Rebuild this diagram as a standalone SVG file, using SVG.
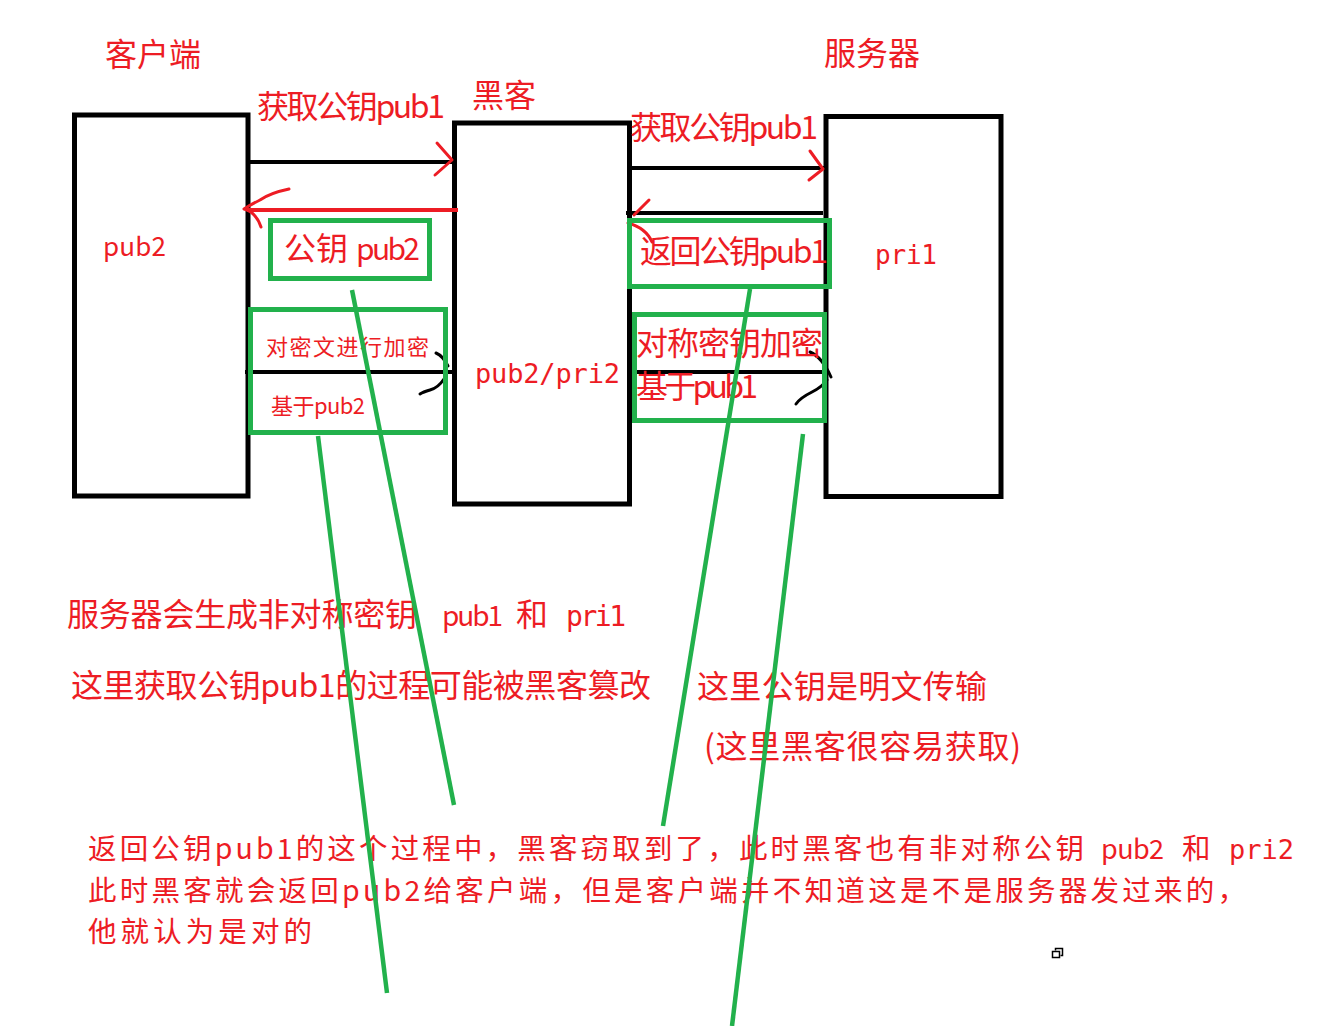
<svg xmlns="http://www.w3.org/2000/svg" width="1344" height="1026" viewBox="0 0 1344 1026">
<style>
.t{font-family:"Noto Sans CJK SC","Noto Sans",sans-serif;fill:#ed1c24}
.m{font-family:"DejaVu Sans Mono","Noto Sans CJK SC",monospace;fill:#ed1c24}
.box{fill:none;stroke:#000;stroke-width:5}
.gbox{fill:none;stroke:#22b14c;stroke-width:5}
.gl{stroke:#22b14c;stroke-width:4.5;fill:none}
.bl{stroke:#000;stroke-width:4;fill:none}
.bs{stroke:#000;stroke-width:3;fill:none;stroke-linecap:round;stroke-linejoin:round}
.rl{stroke:#ed1c24;stroke-width:3;fill:none;stroke-linecap:round;stroke-linejoin:round}
.rline{stroke:#ed1c24;stroke-width:4;fill:none}
</style>
<rect width="1344" height="1026" fill="#fff"/>

<g id="client">
  <rect class="box" x="74.5" y="115" width="173.5" height="381"/>
  <text class="t" x="105" y="66" font-size="32">客户端</text>
  <text class="t" x="103" y="256" font-size="26" textLength="63">pub2</text>
</g>
<g id="hacker">
  <rect class="box" x="454.5" y="123" width="175" height="381"/>
  <text class="t" x="472" y="107" font-size="32">黑客</text>
  <text class="m" x="475" y="383" font-size="27" textLength="145">pub2/pri2</text>
</g>
<g id="server">
  <rect class="box" x="826" y="116.5" width="175" height="380"/>
  <text class="t" x="824" y="65" font-size="32">服务器</text>
  <text class="m" x="875" y="264" font-size="26" textLength="62">pri1</text>
</g>

<g id="connectors">
  <line class="bl" x1="248" y1="162" x2="454" y2="162"/>
  <path class="rl" d="M437,143 L452,160 L435,175"/>
  <line class="rline" x1="247" y1="210" x2="458" y2="210"/>
  <path class="rl" d="M289,189 Q270,193 260,200 Q250,205 244,209 Q256,212 261,227"/>
  <line class="bl" x1="628" y1="168" x2="824" y2="168"/>
  <path class="rl" d="M810,151 L823,169 L809,180"/>
  <line class="bl" x1="626" y1="213" x2="823" y2="213"/>
  <path class="rl" d="M649,200 L634,215"/>
  <path class="rl" d="M628,223 Q646,228 652,242"/>
  <line class="bl" x1="245" y1="372" x2="455" y2="372"/>
  <path class="bs" d="M436,353 Q443,356 448,366"/>
  <path class="bs" d="M444,379 Q438,388 430,390 Q423,392 420,394"/>
  <line class="bl" x1="633" y1="372" x2="826" y2="372"/>
  <path class="bs" d="M810,352 Q822,357 831,377"/>
  <path class="bs" d="M827,380 Q822,387 812,392 Q800,398 796,404"/>
</g>

<g id="key-pub2">
  <rect class="gbox" x="270.5" y="220.5" width="159" height="58"/>
  <text class="t" x="284" y="260" font-size="32">公钥</text>
  <text class="t" x="356" y="260" font-size="30" textLength="64">pub2</text>
</g>
<g id="encrypt-pub2">
  <rect class="gbox" x="250.5" y="309.5" width="195" height="123"/>
  <text class="t" x="266" y="355" font-size="22" textLength="163">对密文进行加密</text>
  <text class="t" x="271" y="414" font-size="22" textLength="94">基于pub2</text>
</g>
<g id="return-pub1">
  <rect class="gbox" x="629.5" y="220.5" width="200" height="66"/>
  <text class="t" x="640" y="263" font-size="32" textLength="188">返回公钥pub1</text>
</g>
<g id="encrypt-pub1">
  <rect class="gbox" x="634.5" y="314.5" width="190" height="106"/>
  <text class="t" x="636" y="355" font-size="32" textLength="187">对称密钥加密</text>
  <text class="t" x="636" y="398" font-size="32" textLength="122">基于pub1</text>
</g>

<g id="labels">
  <text class="t" x="257" y="118" font-size="32" textLength="188">获取公钥pub1</text>
  <text class="t" x="630" y="139" font-size="32" textLength="188">获取公钥pub1</text>

  <text class="t" x="67" y="626" font-size="32" textLength="350">服务器会生成非对称密钥</text>
  <text class="t" x="442" y="626" font-size="28" textLength="61">pub1</text>
  <text class="t" x="516" y="626" font-size="32">和</text>
  <text class="m" x="566" y="626" font-size="28" textLength="60">pri1</text>

  <text class="t" x="71" y="697" font-size="32" textLength="580">这里获取公钥pub1的过程可能被黑客篡改</text>
  <text class="t" x="697" y="698" font-size="32" textLength="290">这里公钥是明文传输</text>
  <text class="t" x="704" y="758" font-size="32" textLength="317">(这里黑客很容易获取)</text>

  <text class="t" x="88" y="859" font-size="28.5" textLength="996">返回公钥pub1的这个过程中，黑客窃取到了，此时黑客也有非对称公钥</text>
  <text class="t" x="1101" y="859" font-size="27" textLength="63">pub2</text>
  <text class="t" x="1182" y="859" font-size="28.5">和</text>
  <text class="m" x="1229" y="859" font-size="27" textLength="65">pri2</text>
  <text class="t" x="88" y="900.5" font-size="28.5" textLength="1158">此时黑客就会返回pub2给客户端，但是客户端并不知道这是不是服务器发过来的，</text>
  <text class="t" x="88" y="942" font-size="28.5" textLength="224">他就认为是对的</text>
</g>

<g id="green-lines">
  <line class="gl" x1="352" y1="290" x2="454" y2="805"/>
  <line class="gl" x1="318" y1="436" x2="387" y2="993"/>
  <line class="gl" x1="750" y1="289" x2="663" y2="826"/>
  <line class="gl" x1="803" y1="434" x2="732" y2="1026"/>
</g>

<g id="icon">
  <path d="M1055.5,950.5 V948.5 H1062.5 V955.5 H1060.5" fill="none" stroke="#000" stroke-width="1.5"/>
  <rect x="1052.5" y="951.5" width="7" height="6" fill="none" stroke="#000" stroke-width="1.5"/>
</g>
</svg>
